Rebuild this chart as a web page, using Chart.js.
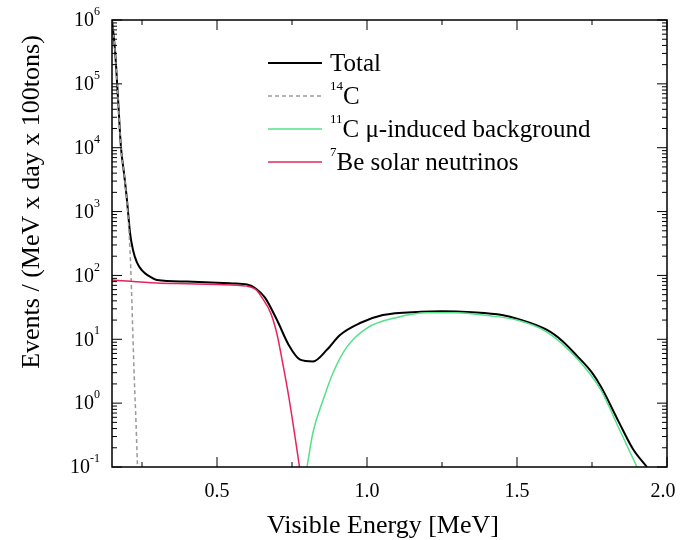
<!DOCTYPE html>
<html>
<head>
<meta charset="utf-8">
<script src="https://cdn.jsdelivr.net/npm/chart.js@4"></script>
<style>
  html, body { margin: 0; padding: 0; background: #fff; }
  #wrap { width: 681px; height: 540px; }
</style>
</head>
<body>
<div id="wrap"><canvas id="c" width="681" height="540"></canvas></div>
<script>
// ---------- data ----------
const totalE = [0.15, 0.16, 0.17, 0.18, 0.19, 0.20, 0.21, 0.22, 0.233, 0.25, 0.27, 0.30, 0.40, 0.50, 0.55, 0.60, 0.63, 0.66, 0.70, 0.74, 0.777, 0.82, 0.867, 0.91, 0.977, 1.053, 1.18, 1.25, 1.35, 1.45, 1.50, 1.60, 1.65, 1.70, 1.75, 1.78, 1.84, 1.887, 1.933];
const totalV = [1.0e6, 3.4e5, 6.0e4, 1.0e4, 4.0e3, 1.5e3, 470, 250, 160, 120, 100, 85, 80, 77, 75, 72, 62, 45, 20, 8, 4.8, 4.5, 6.9, 11.7, 18, 24, 27, 27.5, 26.5, 24, 21, 14, 9.5, 5.5, 3.0, 1.8, 0.5, 0.19, 0.1];

const c14E = [0.15, 0.16, 0.17, 0.18, 0.19, 0.20, 0.21, 0.215, 0.22, 0.225, 0.23, 0.235];
const c14V = [1.0e6, 3.4e5, 6.0e4, 1.0e4, 4.0e3, 1.4e3, 250, 60, 10, 2.0, 0.5, 0.1];

const c11E = [0.80, 0.82, 0.853, 0.887, 0.933, 1.0, 1.1, 1.2, 1.3, 1.4, 1.5, 1.6, 1.7, 1.78, 1.84, 1.90];
const c11V = [0.1, 0.35, 1.1, 3.0, 7.6, 15, 22, 26, 26, 23.5, 20, 13, 5.0, 1.6, 0.4, 0.1];

const be7E = [0.15, 0.30, 0.40, 0.50, 0.60, 0.63, 0.65, 0.68, 0.70, 0.72, 0.74, 0.76, 0.775];
const be7V = [85, 76, 74, 72, 68, 60, 45, 25, 12, 4, 1.2, 0.3, 0.1];

const xMajor = [0.5, 1.0, 1.5, 2.0];
const xMinor = [0.25, 0.75, 1.25, 1.75];
const yExp = [-1, 0, 1, 2, 3, 4, 5, 6];

const pts = (xs, ys) => xs.map((x, i) => ({ x, y: ys[i] }));
const SERIF = '"Liberation Serif", "DejaVu Serif", serif';

// ---------- frame, ticks, labels, legend ----------
const decor = {
  id: 'decor',
  afterDraw(chart){
    const ctx = chart.ctx, a = chart.chartArea;
    const xs = chart.scales.x, ys = chart.scales.y;
    ctx.save();
    ctx.strokeStyle = '#000'; ctx.fillStyle = '#000';
    ctx.lineWidth = 1.5;
    ctx.strokeRect(a.left, a.top, a.right - a.left, a.bottom - a.top);

    ctx.lineWidth = 1;
    const vtick = (x, len) => {
      ctx.beginPath();
      ctx.moveTo(x, a.bottom); ctx.lineTo(x, a.bottom - len);
      ctx.moveTo(x, a.top); ctx.lineTo(x, a.top + len);
      ctx.stroke();
    };
    const htick = (y, len) => {
      ctx.beginPath();
      ctx.moveTo(a.left, y); ctx.lineTo(a.left + len, y);
      ctx.moveTo(a.right, y); ctx.lineTo(a.right - len, y);
      ctx.stroke();
    };
    xMajor.forEach(v => vtick(xs.getPixelForValue(v), 10));
    xMinor.forEach(v => vtick(xs.getPixelForValue(v), 5));
    yExp.forEach(e => {
      htick(ys.getPixelForValue(Math.pow(10, e)), 10);
      if (e < 6) for (let k = 2; k <= 9; k++) htick(ys.getPixelForValue(k * Math.pow(10, e)), 5);
    });

    // x tick labels
    ctx.font = '20px ' + SERIF;
    ctx.textAlign = 'center'; ctx.textBaseline = 'top';
    xMajor.forEach(v => {
      const x = Math.min(xs.getPixelForValue(v), a.right - 4);
      ctx.fillText(v.toFixed(1), x, a.bottom + 15);
    });

    // y tick labels 10^n
    yExp.forEach(e => {
      const y = ys.getPixelForValue(Math.pow(10, e));
      const ex = String(e);
      ctx.font = '12px ' + SERIF;
      const ew = ctx.measureText(ex).width;
      ctx.textBaseline = 'middle';
      ctx.textAlign = 'left';
      ctx.fillText(ex, a.left - 12 - ew, y - 8);
      ctx.font = '20px ' + SERIF;
      ctx.textAlign = 'right';
      ctx.fillText('10', a.left - 12 - ew, y + 1);
    });

    // axis titles
    ctx.font = '26px ' + SERIF;
    ctx.textAlign = 'center'; ctx.textBaseline = 'middle';
    ctx.fillText('Visible Energy [MeV]', 383, 526);
    ctx.save();
    ctx.translate(32, 202);
    ctx.rotate(-Math.PI / 2);
    ctx.fillText('Events / (MeV x day x 100tons)', 0, 0);
    ctx.restore();

    // legend
    const rows = [
      { sup: '', txt: 'Total', color: '#000', w: 2, dash: [] },
      { sup: '14', txt: 'C', color: '#9a9a9a', w: 1.5, dash: [4, 3] },
      { sup: '11', txt: 'C \u03bc-induced background', color: '#55e08a', w: 1.5, dash: [] },
      { sup: '7', txt: 'Be solar neutrinos', color: '#e8245c', w: 1.5, dash: [] }
    ];
    rows.forEach((r, i) => {
      const y = 63 + i * 33;
      ctx.strokeStyle = r.color; ctx.lineWidth = r.w; ctx.setLineDash(r.dash);
      ctx.beginPath(); ctx.moveTo(268, y); ctx.lineTo(322, y); ctx.stroke();
      ctx.setLineDash([]);
      let x = 330;
      ctx.textAlign = 'left'; ctx.textBaseline = 'middle';
      if (r.sup){
        ctx.font = '13px ' + SERIF;
        ctx.fillText(r.sup, x, y - 9);
        x += ctx.measureText(r.sup).width;
      }
      ctx.font = '25px ' + SERIF;
      ctx.fillText(r.txt, x, y + 1);
    });
    ctx.restore();
  }
};

new Chart(document.getElementById('c'), {
  type: 'line',
  data: {
    datasets: [
      { label: '7Be', data: pts(be7E, be7V), borderColor: '#e8245c', borderWidth: 1.5 },
      { label: '11C', data: pts(c11E, c11V), borderColor: '#55e08a', borderWidth: 1.5 },
      { label: '14C', data: pts(c14E, c14V), borderColor: '#9a9a9a', borderWidth: 1.5, borderDash: [4, 3] },
      { label: 'Total', data: pts(totalE, totalV), borderColor: '#000', borderWidth: 2 }
    ]
  },
  options: {
    responsive: false,
    animation: false,
    events: [],
    layout: { padding: { left: 112, top: 20, right: 14, bottom: 73 } },
    elements: { point: { radius: 0 }, line: { cubicInterpolationMode: 'monotone', fill: false } },
    plugins: { legend: { display: false }, tooltip: { enabled: false } },
    scales: {
      x: { type: 'linear', min: 0.15, max: 2.0, display: false },
      y: { type: 'logarithmic', min: 0.1, max: 1e6, display: false }
    }
  },
  plugins: [decor]
});
</script>
</body>
</html>
